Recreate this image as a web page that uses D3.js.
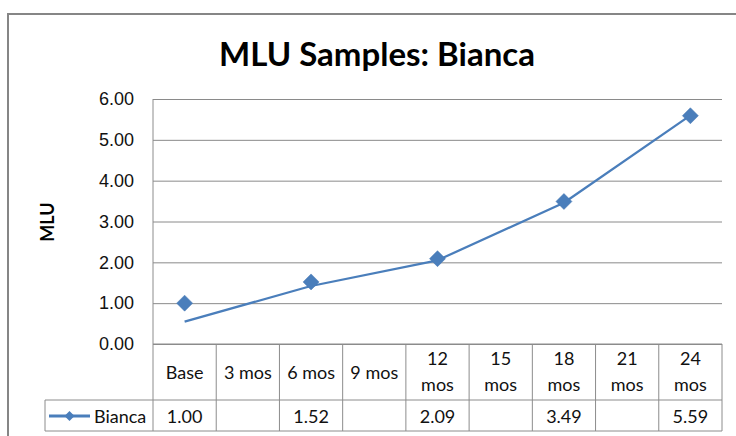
<!DOCTYPE html>
<html>
<head>
<meta charset="utf-8">
<title>MLU Samples: Bianca</title>
<style>
  body { margin: 0; background: #fff; }
  svg { display: block; font-family: Lato, "Liberation Sans", sans-serif; }
  .tick text { font-size: 18px; fill: #111; }
  .grid line { stroke: #8a8a8a; stroke-width: 1px; }
  .cell { stroke: #8c8c8c; stroke-width: 1px; }
</style>
<script src="https://cdn.jsdelivr.net/npm/d3@7"></script>
</head>
<body>
<div id="chart"></div>
<script>
// data
var categories = ["Base", "3 mos", "6 mos", "9 mos", "12 mos", "15 mos", "18 mos", "21 mos", "24 mos"];
var mlu = [1.00, null, 1.52, null, 2.09, null, 3.49, null, 5.59];
// the drawn line (does not go through the markers)
var lineValues = [0.55, null, 1.42, null, 2.05, null, 3.46, null, 5.60];
var yTicks = [0, 1, 2, 3, 4, 5, 6];
var seriesName = "Bianca";

var W = 736, H = 436;
var plot = { left: 153, right: 722, top: 99, bottom: 344 };
var headerBottom = 400, tableBottom = 431, legendLeft = 45;
var blue = "#4a7ebb";

var svg = d3.select("#chart").append("svg")
    .attr("width", W)
    .attr("height", H);

// outer chart frame
svg.append("rect")
    .attr("x", 8).attr("y", 14)
    .attr("width", 760).attr("height", 440)
    .attr("fill", "none")
    .attr("stroke", "#868686")
    .attr("stroke-width", 2);

var x = d3.scaleBand()
    .domain(categories)
    .range([plot.left, plot.right])
    .padding(0);
var y = d3.scaleLinear()
    .domain([0, 6])
    .range([plot.bottom, plot.top]);

// title
svg.append("text")
    .attr("x", 377).attr("y", 66)
    .attr("text-anchor", "middle")
    .style("font-size", "33px")
    .style("font-weight", "bold")
    .style("fill", "#000")
    .text("MLU Samples: Bianca");

// gridlines
svg.append("g")
    .attr("class", "grid")
    .attr("transform", "translate(" + plot.left + ",0)")
    .call(d3.axisLeft(y).tickValues(yTicks).tickSize(-(plot.right - plot.left)).tickFormat(""))
    .call(function(g) { g.select(".domain").remove(); });

// y axis labels
svg.append("g")
    .attr("transform", "translate(" + (plot.left - 19) + ",0)")
    .call(d3.axisLeft(y).tickValues(yTicks).tickSize(0).tickPadding(0).tickFormat(d3.format(".2f")))
    .call(function(g) { g.select(".domain").remove(); });

// y axis title
svg.append("text")
    .attr("transform", "translate(54,222) rotate(-90)")
    .attr("text-anchor", "middle")
    .style("font-size", "18px")
    .style("font-weight", "bold")
    .style("fill", "#000")
    .text("MLU");

// left axis line through plot and table
svg.append("line").attr("class", "cell")
    .attr("x1", plot.left).attr("x2", plot.left)
    .attr("y1", plot.top).attr("y2", tableBottom);

// data table
var table = svg.append("g");
table.append("line").attr("class", "cell")
    .attr("x1", plot.left).attr("x2", plot.right)
    .attr("y1", plot.bottom).attr("y2", plot.bottom);
table.append("line").attr("class", "cell")
    .attr("x1", legendLeft).attr("x2", plot.right)
    .attr("y1", headerBottom).attr("y2", headerBottom);
table.append("line").attr("class", "cell")
    .attr("x1", legendLeft).attr("x2", plot.right)
    .attr("y1", tableBottom).attr("y2", tableBottom);
table.append("line").attr("class", "cell")
    .attr("x1", legendLeft).attr("x2", legendLeft)
    .attr("y1", headerBottom).attr("y2", tableBottom);

table.selectAll(".sep")
    .data(categories)
    .enter().append("line")
    .attr("class", "cell")
    .attr("x1", function(d) { return x(d) + x.bandwidth(); })
    .attr("x2", function(d) { return x(d) + x.bandwidth(); })
    .attr("y1", plot.bottom).attr("y2", tableBottom);

// category headers, long ones wrap
var hdr = table.selectAll(".hdr")
    .data(categories)
    .enter().append("text")
    .attr("text-anchor", "middle")
    .style("font-size", "18px")
    .style("fill", "#111");
hdr.each(function(d) {
    var t = d3.select(this);
    var cx = x(d) + x.bandwidth() / 2;
    var parts = d.length > 5 ? d.split(" ") : [d];
    if (parts.length == 1) {
        t.append("tspan").attr("x", cx).attr("y", 379).text(d);
    } else {
        t.append("tspan").attr("x", cx).attr("y", 365).text(parts[0]);
        t.append("tspan").attr("x", cx).attr("y", 391).text(parts[1]);
    }
});

// value row
table.selectAll(".val")
    .data(categories)
    .enter().append("text")
    .attr("x", function(d) { return x(d) + x.bandwidth() / 2; })
    .attr("y", 423)
    .attr("text-anchor", "middle")
    .style("font-size", "18px")
    .style("fill", "#111")
    .text(function(d, i) { return mlu[i] == null ? "" : d3.format(".2f")(mlu[i]); });

// legend key in table
var diamond = function(cx, cy, r) {
    return "M" + cx + "," + (cy - r) + "L" + (cx + r) + "," + cy + "L" + cx + "," + (cy + r) + "L" + (cx - r) + "," + cy + "Z";
};
table.append("line")
    .attr("x1", 49).attr("x2", 90)
    .attr("y1", 416).attr("y2", 416)
    .attr("stroke", blue).attr("stroke-width", 3);
table.append("path")
    .attr("d", diamond(69.5, 416, 5))
    .attr("fill", blue);
table.append("text")
    .attr("x", 94).attr("y", 423)
    .style("font-size", "18px")
    .style("fill", "#111")
    .text(seriesName);

// series line
var linePts = categories.map(function(c, i) { return { c: c, v: lineValues[i] }; })
    .filter(function(d) { return d.v != null; });
svg.append("path")
    .datum(linePts)
    .attr("fill", "none")
    .attr("stroke", blue)
    .attr("stroke-width", 2.25)
    .attr("stroke-linejoin", "round")
    .attr("d", d3.line()
        .x(function(d) { return x(d.c) + x.bandwidth() / 2; })
        .y(function(d) { return y(d.v); }));

// markers
var pts = categories.map(function(c, i) { return { c: c, v: mlu[i] }; })
    .filter(function(d) { return d.v != null; });
svg.selectAll(".mark")
    .data(pts)
    .enter().append("path")
    .attr("d", function(d) { return diamond(x(d.c) + x.bandwidth() / 2, y(d.v), 8); })
    .attr("fill", blue)
    .attr("stroke", "#4577b3")
    .attr("stroke-width", 0.5);
</script>
</body>
</html>
